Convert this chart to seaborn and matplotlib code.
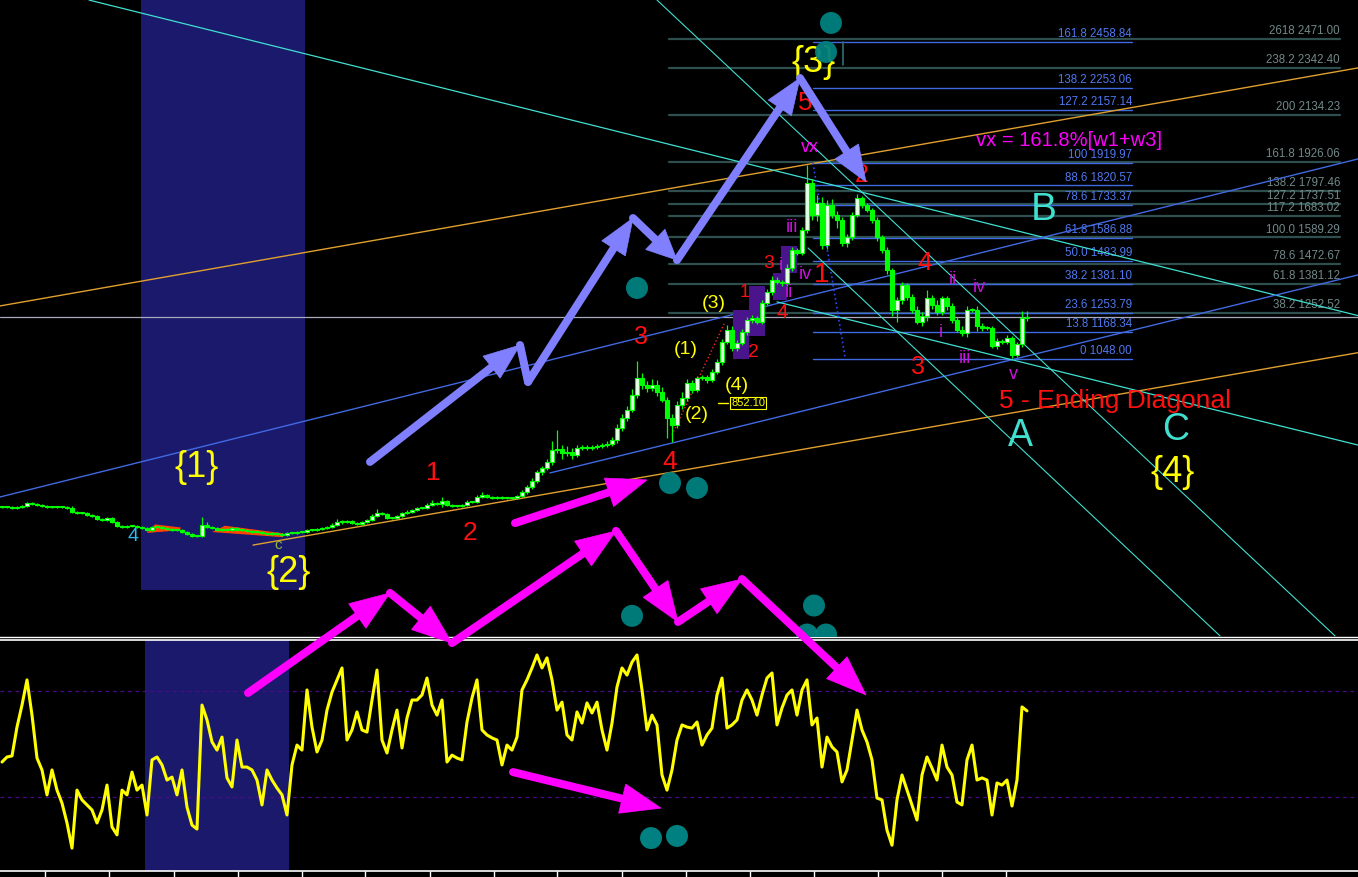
import numpy as np
import matplotlib
matplotlib.use("Agg")
import matplotlib.pyplot as plt
import seaborn as sns
from matplotlib.patches import Rectangle, Polygon

# ---------------- data (bar index = time, price units) ----------------
closes = [
    390, 390, 385, 390, 394, 407, 403, 398, 394, 390,
    390, 390, 390, 385, 367, 363, 363, 354, 350, 336,
    332, 341, 323, 305, 301, 305, 305, 301, 296, 287,
    301, 301, 296, 292, 287, 287, 278, 269, 260, 260,
    310, 301, 296, 287, 292, 287, 296, 287, 287, 283,
    278, 278, 274, 269, 274, 269, 265, 274, 274, 278,
    278, 287, 287, 292, 296, 301, 310, 323, 323, 327,
    318, 314, 323, 332, 350, 363, 358, 341, 341, 350,
    363, 367, 376, 385, 385, 398, 407, 403, 416, 398,
    394, 394, 398, 412, 412, 434, 443, 434, 430, 434,
    430, 430, 430, 439, 456, 479, 505, 545, 563, 590,
    643, 648, 630, 634, 621, 652, 657, 652, 657, 661,
    665, 670, 688, 741, 786, 821, 888, 964, 932, 919,
    932, 901, 866, 786, 754, 843, 874, 941, 910, 964,
    968, 955, 990, 1035, 1124, 1177, 1097, 1119, 1168, 1222,
    1230, 1213, 1297, 1346, 1399, 1391, 1386, 1453, 1533, 1520,
    1622, 1831, 1689, 1742, 1555, 1733, 1689, 1666, 1564, 1591,
    1689, 1764, 1733, 1711, 1666, 1591, 1533, 1444, 1266, 1310,
    1377, 1324, 1266, 1213, 1239, 1319, 1288, 1257, 1319, 1284,
    1222, 1177, 1164, 1266, 1266, 1195, 1186, 1186, 1106, 1128,
    1124, 1142, 1066, 1115, 1230, 1235,
]
wick_hi = [
    5, 5, 5, 5, 5, 5, 5, 5, 5, 5,
    5, 5, 5, 5, 9, 5, 5, 5, 5, 5,
    5, 5, 5, 5, 5, 5, 5, 5, 5, 5,
    5, 5, 5, 5, 5, 5, 5, 5, 5, 5,
    37, 14, 5, 5, 5, 5, 5, 5, 5, 5,
    5, 5, 5, 5, 5, 5, 5, 5, 5, 5,
    5, 5, 5, 5, 5, 5, 9, 14, 9, 5,
    5, 5, 5, 5, 9, 18, 5, 5, 5, 5,
    5, 9, 5, 5, 5, 9, 14, 5, 18, 5,
    5, 5, 5, 9, 5, 9, 14, 5, 5, 5,
    5, 5, 5, 5, 9, 9, 14, 9, 9, 14,
    40, 86, 18, 27, 18, 14, 9, 9, 9, 9,
    9, 14, 14, 18, 18, 18, 27, 73, 23, 18,
    27, 23, 23, 14, 18, 18, 27, 18, 14, 9,
    9, 9, 14, 14, 14, 23, 18, 14, 14, 14,
    14, 9, 14, 14, 18, 14, 9, 18, 14, 9,
    14, 80, 18, 36, 27, 23, 27, 18, 14, 14,
    14, 18, 9, 9, 9, 14, 9, 14, 9, 14,
    14, 9, 14, 18, 18, 36, 14, 23, 9, 9,
    14, 14, 18, 18, 9, 18, 14, 9, 9, 14,
    9, 14, 9, 9, 32, 27,
]
wick_lo = [
    5, 5, 5, 5, 5, 5, 5, 5, 5, 5,
    5, 5, 5, 5, 5, 5, 5, 5, 5, 5,
    5, 5, 5, 5, 5, 5, 5, 5, 5, 5,
    5, 5, 5, 5, 5, 5, 5, 5, 5, 5,
    5, 5, 5, 5, 5, 5, 5, 5, 5, 5,
    5, 5, 5, 5, 5, 5, 5, 5, 5, 5,
    5, 5, 5, 5, 5, 5, 5, 5, 9, 5,
    5, 5, 5, 5, 5, 5, 5, 5, 5, 5,
    5, 5, 5, 5, 5, 5, 5, 5, 14, 5,
    5, 5, 5, 5, 5, 5, 5, 5, 5, 5,
    5, 5, 5, 5, 5, 9, 9, 9, 14, 9,
    14, 14, 27, 14, 18, 9, 9, 9, 9, 9,
    9, 9, 9, 14, 14, 14, 9, 14, 18, 18,
    14, 18, 9, 89, 75, 14, 18, 14, 14, 9,
    9, 14, 9, 9, 14, 9, 14, 14, 9, 14,
    14, 9, 9, 9, 14, 9, 14, 14, 14, 9,
    9, 14, 23, 27, 18, 18, 14, 36, 14, 18,
    14, 9, 14, 9, 14, 18, 14, 18, 27, 54,
    18, 14, 14, 9, 18, 23, 18, 14, 14, 18,
    14, 9, 14, 18, 9, 23, 14, 9, 9, 14,
    9, 9, 14, 9, 14, 14,
]
osc = [
    43.2, 45.1, 45.5, 56.4, 64.7, 74.2, 60.9, 44.7, 40.2, 30.8,
    40.2, 32.6, 27.7, 20.2, 10.7, 32.6, 28.9, 27.0, 25.1, 20.2,
    25.1, 34.5, 18.7, 15.7, 32.6, 30.8, 39.4, 32.6, 34.5, 23.2,
    44.0, 45.1, 42.1, 36.4, 37.5, 30.8, 40.2, 26.2, 19.4, 17.9,
    64.7, 59.1, 50.8, 47.7, 52.6, 37.2, 33.8, 51.5, 41.3, 41.3,
    40.2, 36.4, 27.0, 40.2, 36.4, 33.4, 30.8, 23.2, 42.1, 49.6,
    47.7, 70.4, 56.4, 47.0, 51.5, 62.8, 69.6, 74.2, 78.7, 51.5,
    55.3, 62.1, 55.3, 54.5, 66.6, 77.9, 51.5, 46.6, 55.3, 62.8,
    48.5, 59.8, 66.6, 66.6, 68.5, 74.9, 64.7, 60.9, 66.6, 43.2,
    45.8, 44.7, 44.0, 58.3, 67.4, 74.2, 55.3, 53.4, 52.3, 51.5,
    42.1, 49.6, 47.7, 52.6, 70.4, 74.2, 78.7, 83.6, 78.7, 82.5,
    74.2, 62.8, 65.8, 53.4, 51.5, 62.1, 57.9, 65.5, 61.7, 65.8,
    55.3, 47.7, 57.9, 71.5, 78.7, 76.0, 80.9, 83.6, 70.4, 55.3,
    60.9, 57.2, 38.3, 32.6, 40.2, 51.5, 57.2, 56.4, 56.0, 58.3,
    49.6, 53.4, 56.0, 68.5, 74.9, 56.0, 57.2, 59.1, 66.6, 70.4,
    66.6, 60.9, 68.5, 74.9, 76.8, 57.2, 63.6, 68.5, 70.4, 60.9,
    70.4, 74.2, 57.2, 59.8, 41.3, 52.6, 48.9, 47.0, 35.7, 40.2,
    51.5, 62.8, 55.3, 50.8, 44.0, 29.6, 28.9, 17.5, 11.8, 28.9,
    38.3, 32.6, 27.0, 21.3, 38.3, 45.1, 40.9, 36.4, 49.6, 41.3,
    38.3, 28.1, 27.0, 44.0, 49.6, 36.4, 37.2, 36.4, 23.2, 35.3,
    34.5, 36.4, 26.6, 36.4, 64.0, 62.5,
]
osc_levels = [70, 30]
time_ticks = [8.5, 21.3, 34.4, 47.1, 59.9, 72.6, 85.5, 98.3, 111.0, 123.9,
              136.7, 149.5, 162.3, 175.1, 187.9, 200.7]

# Fibonacci projections
fib_blue_ratio = ["161.8", "138.2", "127.2", "100", "88.6", "78.6", "61.8",
                  "50.0", "38.2", "23.6", "13.8", "0"]
fib_blue_level = [2458.84, 2253.06, 2157.14, 1919.97, 1820.57, 1733.37,
                  1586.88, 1483.99, 1381.10, 1253.79, 1168.34, 1048.00]
fib_gray_ratio = ["2618", "238.2", "200", "161.8", "138.2", "127.2", "117.2",
                  "100.0", "78.6", "61.8", "38.2"]
fib_gray_level = [2471.00, 2342.40, 2134.23, 1926.06, 1797.46, 1737.51,
                  1683.02, 1589.29, 1472.67, 1381.12, 1252.52]
marked_price = 852.10

# ---------------- style ----------------
sns.set_theme(style="dark", rc={"axes.facecolor": "black",
                                "figure.facecolor": "black",
                                "axes.grid": False})
plt.rcParams["font.family"] = ["Liberation Sans", "DejaVu Sans"]

DPI = 100
fig = plt.figure(figsize=(13.58, 8.77), dpi=DPI)
fig.patch.set_facecolor("black")
ax = fig.add_axes([0, 1 - 637 / 877, 1, 637 / 877])
ax2 = fig.add_axes([0, 1 - 871 / 877, 1, 231 / 877])
ax.set_zorder(2)
ax2.set_zorder(1)
for a in (ax, ax2):
    a.set_facecolor("black")
    a.set_xlim(-0.4, 271.2)
    a.set_xticks([])
    a.set_yticks([])
    a.grid(False)
    for s in a.spines.values():
        s.set_visible(False)
ax.set_ylim(-189, 2645.2)
ax2.set_ylim(2.07, 89.25)

ax.spines["bottom"].set_visible(True)
ax.spines["bottom"].set_color("white")
ax.spines["bottom"].set_linewidth(1.0)
for side in ("top", "bottom"):
    ax2.spines[side].set_visible(True)
    ax2.spines[side].set_color("white")
    ax2.spines[side].set_linewidth(1.2)
ax2.set_xticks(time_ticks)
ax2.tick_params(axis="x", direction="out", length=4, width=1, color="white",
                labelbottom=False, bottom=True)

# highlighted time zone
NAVY = "#1b196c"
ax.add_patch(Rectangle((27.8, 20.3), 32.8, 2700, color=NAVY, zorder=0.5, lw=0))
ax2.add_patch(Rectangle((28.6, 0), 28.8, 95, color=NAVY, zorder=0.5, lw=0))

# ---------------- Fibonacci lines ----------------
for r, lv in zip(fib_gray_ratio, fib_gray_level):
    ax.plot([133.4, 267.6], [lv, lv], color="#2f4f4f", lw=1.6, zorder=1)
    ax.text(267.6, lv + 8, f"{r} {lv:.2f}", color="#728888", fontsize=8.3,
            ha="right", va="bottom", zorder=1.5)
for r, lv in zip(fib_blue_ratio, fib_blue_level):
    ax.plot([162.2, 226.0], [lv, lv], color="#4169e1", lw=1.0, zorder=1.2)
    ax.text(226.0, lv + 8, f"{r} {lv:.2f}", color="#4f78f0", fontsize=8.3,
            ha="right", va="bottom", zorder=1.5)

# current price line
ax.axhline(closes[-1], color="#a8aabb", lw=0.9, zorder=1.1)

# ---------------- trend lines ----------------
trend_lines = [
    ((-0.4, 1284), (271.2, 2343), "#e0a030", 1.0, "-"),
    ((17.4, 2645), (271.2, 1241), "#40e0d0", 0.9, "-"),
    ((50.2, 220), (271.2, 1076), "#e0a030", 1.0, "-"),
    ((-0.4, 434), (271.2, 1938), "#4169e1", 1.0, "-"),
    ((109.6, 541), (271.2, 1422), "#4169e1", 1.0, "-"),
    ((131.0, 2645), (266.6, -184), "#40e0d0", 0.8, "-"),
    ((161.2, 1542), (243.6, -184), "#40e0d0", 0.8, "-"),
    ((155.0, 1302), (271.2, 665), "#40e0d0", 0.9, "-"),
    ((162.2, 1920), (168.6, 1057), "#2848ff", 1.2, ":"),
    ((134.0, 710), (144.6, 1213), "#ff2020", 1.0, ":"),
    ((168.2, 2458), (168.2, 2356), "#2f6f6f", 1.2, "-"),
]
for (x0, y0), (x1, y1), c, lw, ls in trend_lines:
    ax.plot([x0, x1], [y0, y1], color=c, lw=lw, ls=ls, zorder=2)

# purple wave boxes
for x0, x1, y0, y1 in [(146.2, 149.4, 1048, 1266), (149.4, 152.6, 1150, 1373),
                       (154.2, 157.0, 1310, 1431), (155.8, 159.0, 1431, 1551)]:
    ax.add_patch(Rectangle((x0, y0), x1 - x0, y1 - y0, color="#4a148c",
                           zorder=2.5, lw=0))

# red ribbons in the {2} zone
for pts in ([(29.0, 274), (30.6, 312), (35.8, 298), (35.6, 286)],
            [(42.0, 278), (44.6, 306), (56.4, 272), (56.2, 255)]):
    ax.add_patch(Polygon(pts, closed=True, color="#ff4500", zorder=3, lw=0))

# ---------------- candles ----------------
bars = np.arange(len(closes))
c = np.array(closes, float)
o = np.r_[c[0], c[:-1]]
hi_b = np.maximum(o, c)
lo_b = np.minimum(o, c)
highs = hi_b + np.array(wick_hi)
lows = lo_b - np.array(wick_lo)
up = c >= o
ax.vlines(bars, lows, highs, color="#00ff00", lw=0.9, zorder=3.5)
h = np.maximum(hi_b - lo_b, 6)
ax.bar(bars[up], h[up], bottom=lo_b[up], width=0.66, color="#eaffea",
       edgecolor="#00ff00", lw=0.8, zorder=4)
ax.bar(bars[~up], h[~up], bottom=lo_b[~up], width=0.66, color="#00ff00",
       edgecolor="#00ff00", lw=0.8, zorder=4)

# marked price box
ax.plot([143.2, 145.2], [marked_price, marked_price], color="#ffff00", lw=1, zorder=5)
ax.text(145.8, marked_price, f"{marked_price:.2f}", color="#ffff00", fontsize=8,
        ha="left", va="center", zorder=5,
        bbox=dict(facecolor="black", edgecolor="#ffff00", pad=0.8, lw=0.8))

# ---------------- oscillator ----------------
sns.lineplot(x=bars, y=osc, ax=ax2, color="#ffff00", lw=2.2, legend=False, zorder=3)
for lv in osc_levels:
    ax2.axhline(lv, color="#4b0a8a", lw=0.9, ls=(0, (3, 3)), zorder=1)

# ---------------- labels ----------------
YEL, RED, CYN, MAG, PUR = "#ffff00", "#ff1010", "#40e0d0", "#ff00ff", "#cc11dd"
labels = [
    ("{1}", 39.0, 563, YEL, 26), ("{2}", 57.4, 96, YEL, 26),
    ("{3}", 162.2, 2369, YEL, 26), ("{4}", 234.2, 545, YEL, 26),
    ("(1)", 136.8, 1092, YEL, 14), ("(2)", 139.0, 799, YEL, 14),
    ("(3)", 142.4, 1297, YEL, 14), ("(4)", 147.0, 932, YEL, 14),
    ("1", 86.2, 541, RED, 19), ("2", 93.6, 274, RED, 19),
    ("3", 127.8, 1146, RED, 18), ("4", 133.6, 590, RED, 19),
    ("1", 148.6, 1346, RED, 13), ("2", 150.2, 1079, RED, 14),
    ("3", 153.4, 1475, RED, 14), ("4", 156.0, 1253, RED, 15),
    ("1", 164.0, 1422, RED, 20), ("2", 172.0, 1867, RED, 18),
    ("5", 160.6, 2187, RED, 19), ("4", 184.6, 1475, RED, 19),
    ("3", 183.2, 1012, RED, 18),
    ("5 - Ending Diagonal", 222.6, 862, RED, 19),
    ("B", 208.4, 1711, CYN, 28), ("A", 203.6, 705, CYN, 27),
    ("C", 234.8, 732, CYN, 27),
    ("vx = 161.8%[w1+w3]", 213.4, 2018, MAG, 14.5), ("vx", 161.6, 1987, MAG, 13),
    ("iii", 158.0, 1631, PUR, 13), ("i", 155.8, 1462, PUR, 13),
    ("iv", 160.6, 1422, PUR, 13), ("ii", 157.4, 1342, PUR, 13),
    ("ii", 190.2, 1400, PUR, 13), ("iv", 195.4, 1364, PUR, 13),
    ("i", 187.8, 1164, PUR, 13), ("iii", 192.6, 1052, PUR, 13),
    ("v", 202.2, 977, PUR, 13),
    ("4", 26.2, 256, "#30b8f0", 14), ("c", 55.2, 222, "#8db83a", 11),
]
for t, x, y, col, fs in labels:
    ax.text(x, y, t, color=col, fontsize=fs, ha="center", va="center", zorder=6)

# teal markers
TEAL = "#008080"
sns.scatterplot(x=[127.0, 165.8, 164.8, 133.6, 139.0, 126.0, 162.4, 161.0, 164.8],
                y=[1364, 2543, 2414, 496, 474, -95, -49, -178, -178],
                ax=ax, s=250, color=TEAL, edgecolor="none", alpha=0.95,
                zorder=7, legend=False)
sns.scatterplot(x=[129.8, 135.0], y=[14.5, 15.3], ax=ax2, s=250, color=TEAL,
                edgecolor="none", zorder=7, legend=False)


# ---------------- wave arrows ----------------
def draw_arrow(axis, p0, p1, color, width_px=8.0, head_len=38.0, head_half=14.0,
               head=True, z=8):
    T = axis.transData
    inv = T.inverted()
    a = np.asarray(T.transform(p0), float)
    b = np.asarray(T.transform(p1), float)
    d = b - a
    L = np.hypot(*d)
    u = d / L
    n = np.array([-u[1], u[0]])
    if head:
        base = b - u * head_len
        tri = np.array([b, base + n * head_half, base - n * head_half])
        end = inv.transform(base + u * 3)
        axis.add_patch(Polygon(inv.transform(tri), closed=True, facecolor=color,
                               edgecolor=color, lw=0.5, zorder=z, clip_on=False))
    else:
        end = p1
    axis.plot([p0[0], end[0]], [p0[1], end[1]], color=color,
              lw=width_px * 72 / DPI, solid_capstyle="round", zorder=z,
              clip_on=False)


BLUE_ARROW = "#8080ff"
blue_path = [(73.6, 590), (103.6, 1110), (105.2, 946), (126.2, 1675),
             (135.0, 1488), (159.6, 2298), (172.8, 1836)]
blue_heads = [True, False, True, True, True, True]
for k in range(len(blue_path) - 1):
    draw_arrow(ax, blue_path[k], blue_path[k + 1], BLUE_ARROW,
               head=blue_heads[k], head_len=36 if k != 3 else 30)

MAGENTA = "#ff00ff"
mag_path = [(49.2, -438), (77.6, 7), (90.0, -216), (122.8, 283),
            (135.2, -122), (148.0, 69), (172.8, -447)]
for k in range(len(mag_path) - 1):
    draw_arrow(ax, mag_path[k], mag_path[k + 1], MAGENTA, head_len=40, head_half=15)
draw_arrow(ax, (102.6, 318), (129.0, 510), MAGENTA, head_len=40, head_half=15)
draw_arrow(ax2, (102.2, 39.4), (131.8, 25.8), MAGENTA, head_len=40, head_half=15)

fig.savefig("out.png", dpi=DPI, facecolor="black")
